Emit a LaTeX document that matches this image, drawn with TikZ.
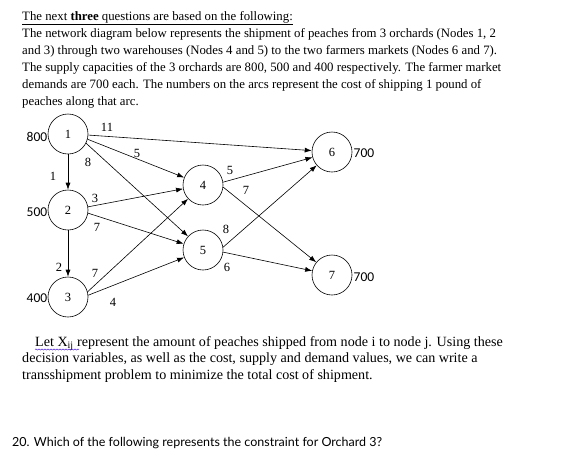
\documentclass[tikz,border=0pt]{standalone}
\usepackage{fontspec}
\setmainfont{Liberation Serif}
\newfontfamily\calib{Carlito}
\newfontfamily\lato{Lato}
\usetikzlibrary{arrows.meta,decorations.pathmorphing}

\begin{document}
\begin{tikzpicture}[x=1pt,y=-1pt,
    orchard/.style={draw,circle,minimum size=40pt,inner sep=0pt,line width=0.6pt,font=\fontsize{12.5}{14}\selectfont},
    arc/.style={-{Latex[length=7pt,width=5pt]},line width=0.6pt},
    cost/.style={inner sep=0pt,font=\fontsize{12.5}{14}\selectfont},
    amount/.style={inner sep=0pt,font=\calib\fontsize{13.5}{15}\selectfont},
    txt/.style={anchor=base west,inner sep=0pt,font=\fontsize{12.8}{17}\selectfont},
    note/.style={anchor=base west,inner sep=0pt,font=\fontsize{14.1}{17}\selectfont}]
    \useasboundingbox (0,0) rectangle (572,461);
    % text above the network
    \node[txt] (t1) at (22,20) {\underline{The next \textbf{three} questions are based on the following:}};
    \node[txt] (t2) at (22,37) {The network diagram below represents the shipment of peaches from 3 orchards (Nodes 1, 2};
    \node[txt] (t3) at (22,54) {and 3) through two warehouses (Nodes 4 and 5) to the two farmers markets (Nodes 6 and 7).};
    \node[txt] (t4) at (22,71) {The supply capacities of the 3 orchards are 800, 500 and 400 respectively. The farmer market};
    \node[txt] (t5) at (22,88) {demands are 700 each. The numbers on the arcs represent the cost of shipping 1 pound of};
    \node[txt] (t6) at (22,105) {peaches along that arc.};
    % network
    \node[orchard] (n1) at (68,134) {1};
    \node[orchard] (n2) at (68,210) {2};
    \node[orchard] (n3) at (68,297) {3};
    \node[orchard] (n4) at (203,185) {4};
    \node[orchard] (n5) at (203,250) {5};
    \node[orchard] (n6) at (332,152) {6};
    \node[orchard] (n7) at (332,275) {7};
    \node[amount] (s1) at (37,137) {800};
    \node[amount] (s2) at (37,212) {500};
    \node[amount] (s3) at (37,298) {400};
    \node[amount] (d6) at (364,153) {700};
    \node[amount] (d7) at (364,277) {700};
    \draw[arc] (n1) -- (n2);
    \draw[arc] (n2) -- (n3);
    \foreach \a/\p/\b in {n1/-3/n6,n1/-15/n4,n1/-27/n5,n2/9/n4,n2/-9/n5,n3/15/n4,n3/5/n5,n4/8/n6,n4/-6/n7,n5/8/n6,n5/-6/n7} {
      \draw[arc] (\a.\p) -- (\b);
    }
    \foreach \c/\x/\y [count=\k] in {1/53/176,2/59/267,11/107/127,5/137/153,8/88/162,3/95/198,7/97/227,7/95/273,4/113/302,5/230/170,7/246/190,8/226/229,6/227/267} {
      \node[cost] (cost\k) at (\x,\y) {\c};
    }
    % text below the network
    \node[note] (p1) at (35,346) {Let X\textsubscript{ij} represent the amount of peaches shipped from node i to node j. Using these};
    \node[note] (p2) at (22,362.5) {decision variables, as well as the cost, supply and demand values, we can write a};
    \node[note] (p3) at (22,379) {transshipment problem to minimize the total cost of shipment.};
    \draw[blue!60!violet,decorate,decoration={snake,amplitude=0.6pt,segment length=3pt}] (35,349.5) -- (79,349.5);
    \node[anchor=base west,inner sep=0pt,font=\lato\fontsize{12.5}{15}\selectfont] (q20) at (12,446) {20. Which of the following represents the constraint for Orchard 3?};
\end{tikzpicture}
\end{document}
